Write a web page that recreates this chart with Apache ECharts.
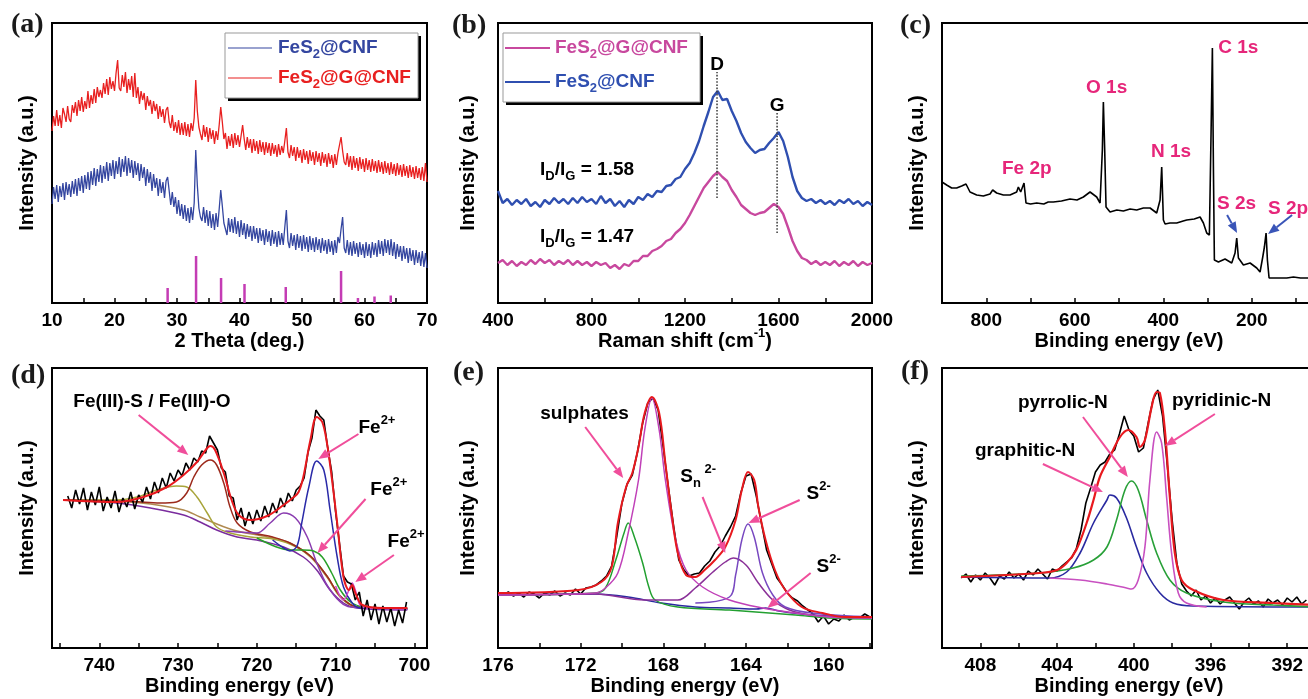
<!DOCTYPE html>
<html lang="en">
<head>
    <meta charset="utf-8">
    <title>FeS2@G@CNF characterisation</title>
    <style type="text/css">
        html, body {
            margin: 0;
            padding: 0;
            background: #ffffff;
            overflow: hidden;
        }

        #main {
            width: 1308px;
            height: 699px;
        }
    </style>
</head>
<body>
<div id="main"></div>
<script src="https://cdn.jsdelivr.net/npm/echarts@6.0.0/dist/echarts.min.js" type="text/javascript"></script>
<script type="text/javascript">
    // intensities are arbitrary units (0 = bottom of the frame)

    // (a) XRD, 10..70 deg, step 0.25
    const xrdRed = [
        172,187,177,193, 177,188,175,195, 189,181,197,184, 181,198,190,201, 187,203,192,206,
        191,202,194,212, 195,208,199,214, 200,216,206,213, 205,220,209,224, 208,226,214,222,
        212,230,243,215, 212,228,216,231, 210,224,213,227, 206,230,205,216, 199,212,203,210,
        193,207,197,203, 189,202,192,199, 184,197,186,194, 180,193,196,181, 175,188,172,181,
        170,183,168,180, 168,181,167,179, 166,180,172,185, 223,192,176,169, 163,178,166,176,
        161,175,164,173, 159,172,163,178, 196,181,164,170, 154,167,157,169, 155,170,158,168,
        156,167,178,164, 153,166,155,164, 150,164,152,162, 149,163,151,161, 148,161,150,160,
        147,160,149,158, 146,159,148,157, 150,162,175,151, 145,158,147,156, 142,156,145,153,
        140,154,143,152, 139,153,142,151, 138,152,141,150, 137,151,140,149, 136,150,139,148,
        135,149,138,150, 150,166,152,141, 138,150,136,147, 133,147,135,145, 132,146,134,144,
        131,145,133,143, 131,144,132,142, 130,143,131,141, 129,142,130,140, 128,141,129,139,
        127,140,128,138, 126,139,127,137, 125,138,126,136, 124,137,125,135, 123,136,122,140,
        121];
    const xrdBlue = [
        99,116,104,118, 101,117,106,120, 103,121,108,119, 106,122,109,124, 107,125,112,127,
        110,128,114,131, 113,132,118,135, 117,134,121,138, 120,137,124,141, 122,140,127,143,
        124,142,129,146, 126,144,131,147, 127,145,130,143, 125,142,128,140, 122,139,125,136,
        117,134,120,131, 112,129,115,125, 107,124,110,121, 105,122,126,112, 98,111,96,106,
        89,103,87,99, 84,98,82,95, 80,96,83,100, 153,118,95,86, 82,96,80,93,
        77,92,75,89, 73,90,76,94, 113,97,80,74, 68,85,71,84, 70,86,69,82,
        66,83,68,80, 64,79,66,77, 62,77,64,75, 60,75,62,73, 58,74,61,72,
        57,73,59,71, 56,72,58,70, 58,76,93,62, 55,70,57,68, 53,69,55,67,
        52,68,54,66, 51,67,53,65, 51,66,53,64, 50,65,52,63, 49,64,51,62,
        48,63,50,66, 60,74,86,55, 50,63,48,61, 47,62,49,60, 46,61,48,59,
        45,61,47,59, 45,61,48,60, 46,63,49,62, 47,64,50,63, 48,64,47,61,
        44,59,46,57, 42,57,44,55, 40,55,42,53, 38,53,40,51, 37,52,36,50,
        35];
    const xrdSticks = [[28.5,15],[33.05,47],[37.05,25],[40.8,19],[47.4,16],[56.25,32],[58.95,5],[61.6,6.5],[64.2,7.5]];

    // (b) Raman, 400..2000 cm-1, step 20
    const ramanBlue = [112,100,104,98,103,99,104,97,101,96,103,99,105,100,104,99,105,100,106,101,104,99,107,100,104,97,102,96,103,99,106,103,109,106,112,111,117,118,124,126,134,140,150,162,177,191,206,212,203,204,192,182,170,161,155,150,153,154,160,165,171,162,146,126,112,105,102,104,100,103,99,102,98,103,100,104,99,102,97,101,98];
    const ramanMagenta = [40,43,38,42,37,41,38,43,39,44,40,43,38,42,39,43,38,42,38,41,37,41,38,40,35,38,34,39,37,42,42,47,47,52,54,57,62,64,70,74,80,88,97,106,115,121,127,131,126,122,113,106,98,94,90,88,90,91,95,99,96,89,76,62,52,45,43,39,42,38,41,38,42,37,41,38,42,37,41,38,40];
    const ramanGuides = [[[1337,105],[1337,231]], [[1594,70],[1594,190]]];

    // (c) XPS survey
    const xpsSurvey = [[900,121],[889.5,118],[878.2,115],[866.9,115],[855.6,117],[845.8,119],[836.7,111],[821.7,108],[806.6,107],[791.5,109],[785.5,113],[776.5,110],[761.4,108],[746.3,108],[731.3,111],[727.5,116],[722.2,111],[714.7,120],[710.2,100],[700,99],[686.1,100],[670,99],[660,101],[648.4,101],[630,102],[610.7,104],[595,103],[580.6,106],[565.5,111],[550.5,106],[542.9,100],[537.7,153],[535.4,201],[532.4,153],[529.4,96],[520.3,91],[505,93],[490.2,92],[475,94],[460.1,93],[445,95],[429.9,95],[414.9,90],[407.3,103],[403.6,136],[399.8,83],[396,79],[385,80],[369.7,80],[355,82],[347.1,83],[330,84],[316.9,86],[309.4,80],[301.9,70],[295.9,68],[292.1,170],[289.1,255],[286.8,136],[284.6,43],[275.5,41],[260.5,44],[245.4,40],[237.9,50],[234.1,65],[230.3,45],[219,38],[203.9,40],[188.9,35],[181.4,31],[175.3,46],[171.6,56],[167.8,70],[164.8,43],[161,25],[140,25],[121,25],[106,26],[90,25],[75.9,25],[55,25]];

    // (d) Fe 2p, raw from 744 eV down in 0.5 eV steps
    const fe2pRaw = [152,140,158,144,160,138,156,143,161,137,151,140,157,136,150,141,156,139,153,146,161,149,166,155,170,160,175,167,178,172,185,178,190,186,197,195,212,205,198,180,176,152,150,128,140,122,136,124,138,127,142,131,145,135,150,141,155,147,158,162,170,196,210,238,232,228,200,176,136,104,72,66,64,48,56,32,48,28,44,24,42,26,40,22,38,25,46];
    const fe2pFit = [[744.6,148],[737.8,146],[734.4,151],[731.4,161],[729.3,173],[727.6,186],[726.3,200],[725.9,202],[725.3,198],[724.2,175],[723.2,148],[722.3,133],[720.8,128],[718.7,132],[716.6,143],[715.3,151],[714.7,156],[714.1,171],[713.2,208],[712.4,231],[711.7,226],[711.1,205],[710.5,171],[709.8,125],[709.0,71],[708.3,58],[707.9,63],[707.5,55],[706.6,43],[703.9,40],[700.9,40]];
    const fe2pBrown = [[744.6,148],[735.7,146.5],[732.3,145],[730.2,146],[728.9,155],[728,171],[727,183],[725.9,188],[725.1,183],[724.2,165],[723.4,141],[722.5,125],[720.8,116],[718,111],[715.8,105],[713.2,92],[711.1,72],[709.4,52],[707.3,41],[700.9,39.5]];
    const fe2pOlive = [[744.6,148],[737.8,148],[735.2,151],[732.7,158],[730.2,162],[728.9,161],[727.6,151],[726.3,135],[725.1,121],[723.4,115],[720.8,111],[718,109],[715.8,104],[713.2,92],[711.1,72],[709.4,51],[707.3,41],[700.9,39.5]];
    const fe2pBgPurple = [[744.6,148],[737.8,145],[733.5,140],[729.3,133],[727.2,126],[725.1,118],[722.5,111],[720,108],[716.6,101],[714.1,91],[712.4,78],[710.7,58],[709,45],[707.3,40],[700.9,38]];
    const fe2pBgTan = [[744.6,148],[737.8,147],[733.5,144],[729.3,138],[727.2,131],[723,118],[718.7,111],[715.8,105],[713.2,91],[711.1,71],[709.4,51],[707.3,41],[700.9,40]];
    const fe2pPurple = [[724,117],[722.5,116],[720,115],[718.3,125],[716.6,135],[715.1,130],[713.6,111],[712.4,85],[711.1,63],[709.4,46],[708.1,41],[700.9,39]];
    const fe2pBlue = [[718,108],[716.6,100],[715.8,97],[714.9,102],[714.3,125],[713.4,161],[712.4,187],[711.5,178],[710.7,138],[709.8,91],[709,61],[707.9,45],[706.9,40],[700.9,39]];
    const fe2pGreen = [[720,110],[717.5,101],[715.8,98],[714.1,98],[712.8,97],[711.7,91],[710.5,75],[709.4,58],[708.1,46],[706.4,41],[700.9,39]];
    const fe2pMagenta = [[710,62],[709,48],[708.3,58],[707.9,65],[707.5,58],[706.9,43],[706,40],[700.9,39]];

    // (e) S 2p, raw from 176 eV down in 0.25 eV steps
    const s2pRaw = [55,53,56,52,55,51,56,54,50,55,53,57,52,55,53,59,54,60,61,63,67,72,82,112,145,164,173,196,225,245,250,238,200,160,122,88,78,72,74,75,82,87,96,102,112,121,132,155,172,174,152,125,98,84,70,63,55,50,47,42,38,34,26,32,24,29,27,33,28,31,30,34,31];
    const s2pFit = [[176,55],[172.1,58],[171,66],[170.5,81],[170.2,125],[169.8,161],[169.5,175],[169.2,201],[168.9,235],[168.55,251],[168.2,235],[167.9,185],[167.6,135],[167.3,95],[166.9,73],[166.45,71],[166,78],[165.5,88],[165,101],[164.5,128],[164.2,158],[163.9,176],[163.6,168],[163.4,141],[163.05,108],[162.6,78],[162.1,58],[161.3,41],[160.3,35],[159.2,31],[157.9,31]];
    const s2pMagenta = [[176,53],[171.3,55],[170.8,60],[170.2,75],[169.7,115],[169.2,168],[168.9,218],[168.55,250],[168.2,218],[167.9,168],[167.4,108],[166.9,78],[166.1,61],[164.8,48],[163.2,40],[161.6,35],[160,31],[157.9,30]];
    const s2pGreen = [[176,53],[171.3,55],[170.8,60],[170.3,88],[169.9,115],[169.7,125],[169.4,111],[169,85],[168.7,61],[168.4,48],[167.3,41],[164.8,38],[161.6,33],[160,30],[157.9,29]];
    const s2pPurple = [[176,53],[171.3,54],[168.9,48],[167.3,48],[166.45,60],[165.6,76],[165,86],[164.6,90],[164,83],[163.4,65],[162.7,48],[161.9,38],[160.8,33],[157.9,30]];
    const s2pViolet = [[166.45,45],[164.8,51],[164.5,73],[164.2,108],[163.9,124],[163.6,111],[163.2,75],[162.7,53],[162.1,41],[160.8,35],[157.9,31]];
    const s2pBlue = [[176,53],[171.3,54],[169.7,51],[168.1,45],[166.45,41],[164.8,40],[163.5,39],[163.05,40],[162.4,37],[160.8,33],[157.9,30]];

    // (f) N 1s, raw from 409 eV down in 0.25 eV steps
    const n1sRaw = [70,74,66,73,68,75,70,63,72,69,76,70,74,68,77,73,79,74,69,79,77,82,86,90,99,118,145,160,176,183,186,194,198,214,232,218,212,196,200,225,248,258,232,182,128,84,64,57,52,58,48,52,45,50,44,48,51,45,39,46,50,44,47,41,49,45,48,43,50,46,51,44,48];
    const n1sFit = [[409,71],[404.9,75],[404,78],[403.5,85],[403,98],[402.46,125],[402.1,148],[401.77,171],[401.25,191],[400.72,211],[400.29,218],[399.86,211],[399.68,201],[399.42,208],[399.07,241],[398.81,256],[398.64,255],[398.38,218],[398.12,151],[397.86,95],[397.51,68],[396.9,58],[395.34,48],[392.73,45],[390.5,43]];
    const n1sBlue = [[409,71],[404.4,70],[403.5,76],[402.8,95],[402.1,125],[401.4,148],[401.25,153],[400.9,150],[400.4,131],[399.86,101],[399.33,75],[398.64,55],[397.95,45],[396.9,42],[390.5,41]];
    const n1sGreen = [[409,72],[404.9,75],[403.16,80],[402.1,88],[401.4,101],[400.9,128],[400.46,158],[400.12,167],[399.77,158],[399.33,128],[398.81,95],[398.12,68],[397.25,55],[395.34,46],[392.73,43],[390.5,41]];
    const n1sMagenta = [[404.4,70],[402.8,68],[401.4,64],[400.38,60],[400.12,59],[399.77,68],[399.42,101],[399.16,168],[398.81,216],[398.55,205],[398.29,151],[398.03,95],[397.68,55],[397.25,45],[396.2,41]];

    // tick labels / tick marks per panel
    const xrdLabels = [10,20,30,40,50,60,70];
    const xrdTicks = [10,15,20,25,30,35,40,45,50,55,60,65,70];
    const ramanLabels = [400,800,1200,1600,2000];
    const ramanTicks = [400,600,800,1000,1200,1400,1600,1800,2000];
    const surveyLabels = [800,600,400,200];
    const surveyTicks = [800,700,600,500,400,300,200,100];
    const fe2pLabels = [740,730,720,710,700];
    const fe2pTicks = [745,740,735,730,725,720,715,710,705,700];
    const s2pLabels = [176,172,168,164,160];
    const s2pTicks = [176,174,172,170,168,166,164,162,160,158];
    const n1sLabels = [408,404,400,396,392];
    const n1sTicks = [408,406,404,402,400,398,396,394,392];

    // annotations, in data coordinates of their panel
    const ramanNotes = [
        {at: [1337, 238], parts: [['D', 'n']], align: 'center'},
        {at: [1594, 197], parts: [['G', 'n']], align: 'center'},
        {at: [580, 133], parts: [['I', 'n'], ['D', 'sub'], ['/I', 'n'], ['G', 'sub'], [' = 1.58', 'n']]},
        {at: [580, 66], parts: [['I', 'n'], ['D', 'sub'], ['/I', 'n'], ['G', 'sub'], [' = 1.47', 'n']]}
    ];
    const surveyNotes = [
        {at: [276, 255], parts: [['C 1s', 'n']]},
        {at: [574.6, 215], parts: [['O 1s', 'n']]},
        {at: [427.7, 151], parts: [['N 1s', 'n']]},
        {at: [764.4, 134], parts: [['Fe 2p', 'n']]},
        {at: [278.5, 99], parts: [['S 2s', 'n']]},
        {at: [163.3, 94], parts: [['S 2p', 'n']]}
    ];
    const surveyArrows = [[[255.9, 88], [233.3, 70]], [[109, 88], [163.3, 69]]];
    const fe2pNotes = [
        {at: [743.3, 246], parts: [['Fe(III)-S / Fe(III)-O', 'n']]},
        {at: [707.1, 220], parts: [['Fe', 'n'], ['2+', 'sup']]},
        {at: [705.6, 158], parts: [['Fe', 'n'], ['2+', 'sup']]},
        {at: [703.4, 106], parts: [['Fe', 'n'], ['2+', 'sup']]}
    ];
    const fe2pArrows = [[[735.0, 233], [728.7, 193]], [[707.1, 214], [712.2, 189]], [[706.2, 149], [712.3, 95]], [[702.6, 93], [707.5, 66]]];
    const s2pNotes = [
        {at: [173.96, 234], parts: [['sulphates', 'n']]},
        {at: [167.18, 171], parts: [['S', 'n'], ['n', 'sub'], [' 2-', 'sup']]},
        {at: [161.07, 154], parts: [['S', 'n'], ['2-', 'sup']]},
        {at: [160.58, 81], parts: [['S', 'n'], ['2-', 'sup']]}
    ];
    const s2pArrows = [[[171.78, 221], [169.94, 170]], [[166.1, 151], [165.0, 95]], [[161.4, 148], [163.88, 125]], [[160.87, 75], [162.96, 40]]];
    const n1sNotes = [
        {at: [406.04, 245], parts: [['pyrrolic-N', 'n']]},
        {at: [398.01, 247], parts: [['pyridinic-N', 'n']]},
        {at: [408.28, 197], parts: [['graphitic-N', 'n']]}
    ];
    const n1sArrows = [[[402.65, 231], [400.31, 171]], [[395.77, 234], [398.37, 202]], [[404.74, 184], [401.61, 156]]];

    const FONT = '"Liberation Sans", Arial, Helvetica, sans-serif';
    const PINK = '#f04e9b';

    // pixel boxes of the six frames: left, top, width, height
    const frames = [[52, 23, 375, 280], [498, 23, 374, 280], [942, 23, 374, 280],
                    [52, 368, 375, 280], [498, 368, 374, 280], [942, 368, 374, 280]];
    const yNameGaps = [15, 20, 15, 15, 20, 15];

    function onGrid(start, step, ys) {
        return ys.map(function (y, i) { return [start + i * step, y]; });
    }

    function xAxisFor(g, min, max, inverse, labels, ticks, name) {
        return {
            gridIndex: g, type: 'value', min: min, max: max, inverse: inverse,
            name: name, nameLocation: 'middle', nameGap: 28, nameMoveOverlap: false,
            nameTextStyle: {fontFamily: FONT, fontWeight: 'bold', fontSize: 20, color: '#000'},
            axisLine: {show: true, onZero: false, lineStyle: {color: '#000', width: 2}},
            axisTick: {show: true, inside: true, length: 5, customValues: ticks, lineStyle: {color: '#000', width: 1.5}},
            axisLabel: {
                customValues: labels, margin: 8, fontFamily: FONT, fontWeight: 'bold', fontSize: 19, color: '#000',
                formatter: function (v) { return String(v); }
            },
            splitLine: {show: false}
        };
    }

    function yAxisFor(g) {
        return {
            gridIndex: g, type: 'value', min: 0, max: 280,
            name: 'Intensity (a.u.)', nameLocation: 'middle', nameGap: yNameGaps[g], nameMoveOverlap: false,
            nameTextStyle: {fontFamily: FONT, fontWeight: 'bold', fontSize: 20, color: '#000'},
            axisLine: {show: false}, axisTick: {show: false}, axisLabel: {show: false}, splitLine: {show: false}
        };
    }

    function line(g, data, color, width, smooth) {
        return {
            type: 'line', xAxisIndex: g, yAxisIndex: g, data: data,
            symbol: 'none', showSymbol: false, smooth: smooth || false, silent: true,
            lineStyle: {color: color, width: width}, itemStyle: {color: color}
        };
    }

    const series = [
        line(0, onGrid(10, 0.25, xrdRed), '#e82020', 1.3),
        line(0, onGrid(10, 0.25, xrdBlue), '#3446a0', 1.3),
        {type: 'bar', xAxisIndex: 0, yAxisIndex: 0, data: xrdSticks, barWidth: 2.5, silent: true, itemStyle: {color: '#c43cb4'}},

        line(1, onGrid(400, 20, ramanBlue), '#2f4fb0', 2.4),
        line(1, onGrid(400, 20, ramanMagenta), '#c8489e', 2.4),

        line(2, xpsSurvey, '#000', 1.6),

        line(3, fe2pBgTan, '#b08a50', 1.5, 0.35),
        line(3, fe2pBgPurple, '#7a2c9e', 1.5, 0.35),
        line(3, fe2pOlive, '#a8a43a', 1.5, 0.35),
        line(3, fe2pBrown, '#9c2a1c', 1.5, 0.35),
        line(3, fe2pPurple, '#8a3cb0', 1.5, 0.35),
        line(3, fe2pGreen, '#28a028', 1.5, 0.35),
        line(3, fe2pBlue, '#2a2aa8', 1.5, 0.35),
        line(3, fe2pMagenta, '#d048c8', 1.5, 0.35),
        line(3, onGrid(744, -0.5, fe2pRaw), '#000', 1.6),
        line(3, fe2pFit, '#e8191e', 2, 0.35),

        line(4, onGrid(176, -0.25, s2pRaw), '#000', 1.6),
        line(4, s2pBlue, '#2a2aa0', 1.5, 0.35),
        line(4, s2pGreen, '#22a030', 1.5, 0.35),
        line(4, s2pPurple, '#8a3098', 1.5, 0.35),
        line(4, s2pViolet, '#7848c0', 1.5, 0.35),
        line(4, s2pMagenta, '#c040b8', 1.5, 0.35),
        line(4, s2pFit, '#e8191e', 2, 0.35),

        line(5, onGrid(409, -0.25, n1sRaw), '#000', 1.6),
        line(5, n1sBlue, '#2a2aa0', 1.6, 0.35),
        line(5, n1sGreen, '#28a038', 1.6, 0.35),
        line(5, n1sMagenta, '#c850c0', 1.6, 0.35),
        line(5, n1sFit, '#e8191e', 2.2, 0.35)
    ];
    ramanGuides.forEach(function (seg) {
        const s = line(1, seg, '#444', 1.6);
        s.lineStyle.type = 'dotted';
        series.push(s);
    });

    const chart = echarts.init(document.getElementById('main'), null, {renderer: 'canvas'});
    chart.setOption({
        animation: false,
        backgroundColor: '#fff',
        grid: frames.map(function (f) {
            return {left: f[0], top: f[1], width: f[2], height: f[3], show: true, borderColor: '#000',
                    borderWidth: 2, backgroundColor: 'transparent', containLabel: false, outerBoundsMode: 'none'};
        }),
        xAxis: [
            xAxisFor(0, 10, 70, false, xrdLabels, xrdTicks, '2 Theta (deg.)'),
            xAxisFor(1, 400, 2000, false, ramanLabels, ramanTicks, ''),
            xAxisFor(2, 55, 900, true, surveyLabels, surveyTicks, 'Binding energy (eV)'),
            xAxisFor(3, 698.4, 746, true, fe2pLabels, fe2pTicks, 'Binding energy (eV)'),
            xAxisFor(4, 157.9, 176, true, s2pLabels, s2pTicks, 'Binding energy (eV)'),
            xAxisFor(5, 390.5, 410, true, n1sLabels, n1sTicks, 'Binding energy (eV)')
        ],
        yAxis: [0, 1, 2, 3, 4, 5].map(yAxisFor),
        series: series
    });

    // ---- overlays: text with sub/superscripts, arrows, legends ----
    const measure = document.createElement('canvas').getContext('2d');

    function runEls(x, y, parts, color, size, align) {
        const pieces = parts.map(function (p) {
            const s = p[1] === 'n' ? size : Math.round(size * 0.66);
            const font = 'bold ' + s + 'px ' + FONT;
            measure.font = font;
            return {t: p[0], k: p[1], font: font, w: measure.measureText(p[0]).width};
        });
        const total = pieces.reduce(function (a, p) { return a + p.w; }, 0);
        let cx = align === 'center' ? x - total / 2 : x;
        return pieces.map(function (p) {
            const dy = p.k === 'sub' ? size * 0.34 : (p.k === 'sup' ? -size * 0.4 : 0);
            const el = {
                type: 'text', x: cx, y: y + dy, z: 20, silent: true,
                style: {text: p.t, font: p.font, fill: color, align: 'left', verticalAlign: 'middle',
                        textAlign: 'left', textVerticalAlign: 'middle'}
            };
            cx += p.w;
            return el;
        });
    }

    function arrowEls(p1, p2, color) {
        const dx = p2[0] - p1[0], dy = p2[1] - p1[1];
        const len = Math.sqrt(dx * dx + dy * dy);
        const ux = dx / len, uy = dy / len;
        const head = 11, half = 4.5;
        const bx = p2[0] - ux * head, by = p2[1] - uy * head;
        return [
            {type: 'line', z: 20, silent: true, shape: {x1: p1[0], y1: p1[1], x2: bx, y2: by},
             style: {stroke: color, lineWidth: 2}},
            {type: 'polygon', z: 20, silent: true,
             shape: {points: [[p2[0], p2[1]], [bx - uy * half, by + ux * half], [bx + uy * half, by - ux * half]]},
             style: {fill: color}}
        ];
    }

    function px(g, pt) {
        return chart.convertToPixel({gridIndex: g}, pt);
    }

    let overlay = [];

    function addNotes(g, notes, color) {
        notes.forEach(function (n) {
            const p = px(g, n.at);
            overlay = overlay.concat(runEls(p[0], p[1], n.parts, color, 19, n.align));
        });
    }

    function addArrows(g, arrows, color) {
        arrows.forEach(function (a) {
            overlay = overlay.concat(arrowEls(px(g, a[0]), px(g, a[1]), color));
        });
    }

    addNotes(1, ramanNotes, '#000');
    addNotes(2, surveyNotes, '#e6267a');
    addArrows(2, surveyArrows, '#3a55b8');
    addNotes(3, fe2pNotes, '#000');
    addArrows(3, fe2pArrows, PINK);
    addNotes(4, s2pNotes, '#000');
    addArrows(4, s2pArrows, PINK);
    addNotes(5, n1sNotes, '#000');
    addArrows(5, n1sArrows, PINK);

    // Raman x-axis title (has a superscript)
    overlay = overlay.concat(runEls(685, 341, [['Raman shift (cm', 'n'], ['-1', 'sup'], [')', 'n']], '#000', 20, 'center'));

    // panel tags
    const tags = [['(a)', 11, 25], ['(b)', 452, 26], ['(c)', 900, 26], ['(d)', 11, 376], ['(e)', 453, 373], ['(f)', 901, 372]];
    tags.forEach(function (t) {
        overlay.push({
            type: 'text', x: t[1], y: t[2], z: 20, silent: true,
            style: {text: t[0], font: 'bold 28px "Liberation Serif", "Times New Roman", serif', fill: '#1a1a1a',
                    align: 'left', verticalAlign: 'middle', textAlign: 'left', textVerticalAlign: 'middle'}
        });
    });

    // legends
    function legendEls(box, rows, lineX, textX, lineW) {
        const els = [
            {type: 'rect', z: 18, silent: true, shape: {x: box[0] + 3, y: box[1] + 3, width: box[2], height: box[3]},
             style: {fill: '#000'}},
            {type: 'rect', z: 19, silent: true, shape: {x: box[0], y: box[1], width: box[2], height: box[3]},
             style: {fill: '#fff', stroke: '#999', lineWidth: 1}}
        ];
        rows.forEach(function (r) {
            els.push({type: 'line', z: 20, silent: true, shape: {x1: lineX[0], y1: r.y, x2: lineX[1], y2: r.y},
                      style: {stroke: r.color, lineWidth: lineW}});
            runEls(textX, r.y, r.parts, r.color, 19).forEach(function (e) { els.push(e); });
        });
        return els;
    }

    const cnfParts = [['FeS', 'n'], ['2', 'sub'], ['@CNF', 'n']];
    const gcnfParts = [['FeS', 'n'], ['2', 'sub'], ['@G@CNF', 'n']];
    overlay = overlay.concat(legendEls([225, 33, 193, 65], [
        {y: 48, color: '#3446a0', parts: cnfParts},
        {y: 78, color: '#e82020', parts: gcnfParts}
    ], [228, 272], 278, 1.2));
    overlay = overlay.concat(legendEls([503, 33, 197, 69], [
        {y: 48, color: '#c8489e', parts: gcnfParts},
        {y: 82, color: '#2f4fb0', parts: cnfParts}
    ], [505, 550], 555, 2));

    chart.setOption({graphic: {elements: overlay}});
</script>
</body>
</html>
